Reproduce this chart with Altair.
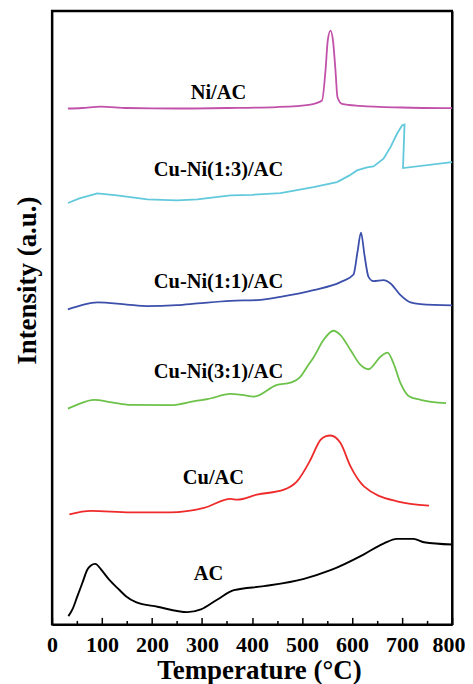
import altair as alt
import pandas as pd

# ---- data (temperature in °C, intensity in a.u. with offsets) ----
ac_t = [33, 41, 51, 61, 71, 78, 86.5, 101, 114, 134, 148, 168, 211, 271, 298, 331, 364, 424, 504, 557, 623, 663, 690, 723, 744, 800]
ac_i = [8.3, 15, 28.3, 41.7, 55, 59, 60.7, 53.3, 45, 35, 28.3, 22.3, 17.7, 12.3, 15, 25, 34.3, 38.3, 45.7, 54.3, 70, 81, 85.7, 85.7, 82.3, 80]

cu_t = [35, 78, 157, 237, 304, 357, 371, 410, 464, 490, 517, 537, 547, 557, 577, 597, 624, 690, 754]
cu_i = [110.3, 113.7, 112.3, 112.3, 116.7, 125.7, 125, 130, 135, 143.3, 165, 185, 188.5, 189.3, 181.7, 158.3, 138.3, 123.3, 119]

cn31_t = [32, 50, 84, 120, 157, 237, 291, 311, 357, 380, 404, 450, 477, 497, 510, 524, 543, 563, 577, 597, 617, 633, 657, 671, 683, 697, 713, 737, 788]
cn31_i = [216.3, 220, 225, 222.5, 220, 219.7, 224.3, 225.7, 231, 230, 228.3, 240, 242.3, 248.3, 258, 268.3, 285, 294.3, 290, 275, 260, 255.7, 268.3, 272.3, 261.7, 241.7, 229, 225, 221.7]

cn11_t = [32, 60, 91, 150, 191, 250, 291, 357, 410, 457, 523, 577, 603, 611, 618, 625, 633, 643, 663, 677, 697, 717, 737, 800]
cn11_i = [315.7, 320, 322.7, 320.5, 319, 320, 321.7, 324.3, 325, 328.3, 335, 343, 350.7, 373.3, 392.7, 370, 348.3, 344, 345, 341.7, 330, 322.7, 321, 319.7]

cn13_t = [32, 55, 91, 130, 191, 250, 291, 357, 400, 457, 523, 570, 595, 610, 630, 643, 663, 677, 690, 700, 705, 702, 800]
cn13_i = [422.3, 427, 432, 430, 426, 425, 426, 430, 430.5, 432.3, 438.3, 443.3, 450, 455, 458, 459, 466.7, 478.3, 491.7, 500, 501, 457.3, 463.3]

ni_t = [32, 60, 98, 150, 250, 350, 450, 517, 540, 547, 551.5, 557, 562, 567, 571, 580, 616, 700, 800]
ni_i = [517, 517.5, 519, 517.5, 517, 517.5, 518.5, 521, 525, 555, 585, 595, 585, 555, 528.3, 521.7, 519.7, 518, 517.3]

series_names = ["AC", "Cu/AC", "Cu-Ni(3:1)/AC", "Cu-Ni(1:1)/AC", "Cu-Ni(1:3)/AC", "Ni/AC"]
series_colors = ["#000000", "#ee2a2a", "#6cc24a", "#3b4fab", "#62c9dc", "#c251aa"]
series_t = [ac_t, cu_t, cn31_t, cn11_t, cn13_t, ni_t]
series_i = [ac_i, cu_i, cn31_i, cn11_i, cn13_i, ni_i]

label_t = [313, 323, 333, 333, 333, 333]
label_i = [50, 147, 253, 343, 455, 533]

x_major = [0, 100, 200, 300, 400, 500, 600, 700, 800]
x_minor = [50, 150, 250, 350, 450, 550, 650, 750]

rows = []
for name, ts, vs in zip(series_names, series_t, series_i):
    for k, (t, v) in enumerate(zip(ts, vs)):
        rows.append({"series": name, "T": t, "I": v, "k": k})
df = pd.DataFrame(rows)
labels = pd.DataFrame({"series": series_names, "T": label_t, "I": label_i})

FONT = "Liberation Serif"
xscale = alt.Scale(domain=[0, 800], nice=False, zero=False)
yscale = alt.Scale(domain=[0, 615], nice=False, zero=False)

def frame_axis(orient):
    return alt.Axis(orient=orient, domain=True, domainColor="black", domainWidth=2,
                    ticks=False, labels=False, grid=False, title=None)

yaxis = alt.Axis(orient="left", title="Intensity (a.u.)", ticks=False, labels=False,
                 domain=True, domainColor="black", domainWidth=2, grid=False,
                 titleFont=FONT, titleFontSize=27, titleFontWeight="bold", titlePadding=10,
                 titleColor="black", titleY=270)

major_axis = alt.Axis(values=x_major, orient="bottom", offset=-7, tickSize=7, tickWidth=1.5, tickColor="black",
                      domain=False, grid=False, labelFont=FONT, labelFontSize=22, labelFontWeight="bold",
                      labelColor="black", labelPadding=10, labelFlush=False,
                      labelOffset={"condition": {"test": "datum.value == 800", "value": -3.5}, "value": 0},
                      title="Temperature (°C)", titleFont=FONT, titleFontSize=27, titleFontWeight="bold",
                      titleColor="black", titleX=207.5, titleY=61, titleBaseline="alphabetic")
minor_axis = alt.Axis(values=x_minor, orient="bottom", offset=-4, tickSize=4, tickWidth=1.5, tickColor="black",
                      domain=False, grid=False, labels=False, title=None)

color = alt.Color("series:N", scale=alt.Scale(domain=series_names, range=series_colors), legend=None)

# coloured smooth curves (left y axis, major x ticks and labels)
colored = alt.Chart(df).mark_line(strokeWidth=1.8, interpolate="monotone").encode(
    x=alt.X("T:Q", scale=xscale, axis=major_axis),
    y=alt.Y("I:Q", scale=yscale, axis=yaxis),
    color=color,
    order="k:Q",
    detail="series:N",
).transform_filter((alt.datum.series != "Cu-Ni(1:3)/AC") & (alt.datum.series != "AC"))

# black AC curve (bottom frame line)
ac_line = alt.Chart(df).mark_line(strokeWidth=1.9, interpolate="monotone").encode(
    x=alt.X("T:Q", scale=xscale, axis=frame_axis("bottom")),
    y=alt.Y("I:Q", scale=yscale, axis=None),
    color=color,
    order="k:Q",
).transform_filter(alt.datum.series == "AC")

# cyan curve with the vertical drop (top and right frame lines)
cyan = alt.Chart(df).mark_line(strokeWidth=1.8, interpolate="linear").encode(
    x=alt.X("T:Q", scale=xscale, axis=frame_axis("top")),
    y=alt.Y("I:Q", scale=yscale, axis=frame_axis("right")),
    color=color,
    order="k:Q",
).transform_filter(alt.datum.series == "Cu-Ni(1:3)/AC")

# curve labels (minor x ticks)
text = alt.Chart(labels).mark_text(font=FONT, fontSize=20.5, fontWeight="bold", color="black",
                                   align="center", baseline="middle").encode(
    x=alt.X("T:Q", scale=xscale, axis=minor_axis),
    y=alt.Y("I:Q", scale=yscale, axis=None),
    text="series:N",
)

chart = alt.layer(colored, ac_line, cyan, text).resolve_axis(x="independent", y="independent").properties(
    width=401, height=615,
    padding={"left": 6, "top": 2, "right": 0, "bottom": 0},
).configure(background="white").configure_view(stroke="black", strokeWidth=2, strokeOpacity=1)

chart.save("out.html", embed_options={"renderer": "svg", "actions": False})
